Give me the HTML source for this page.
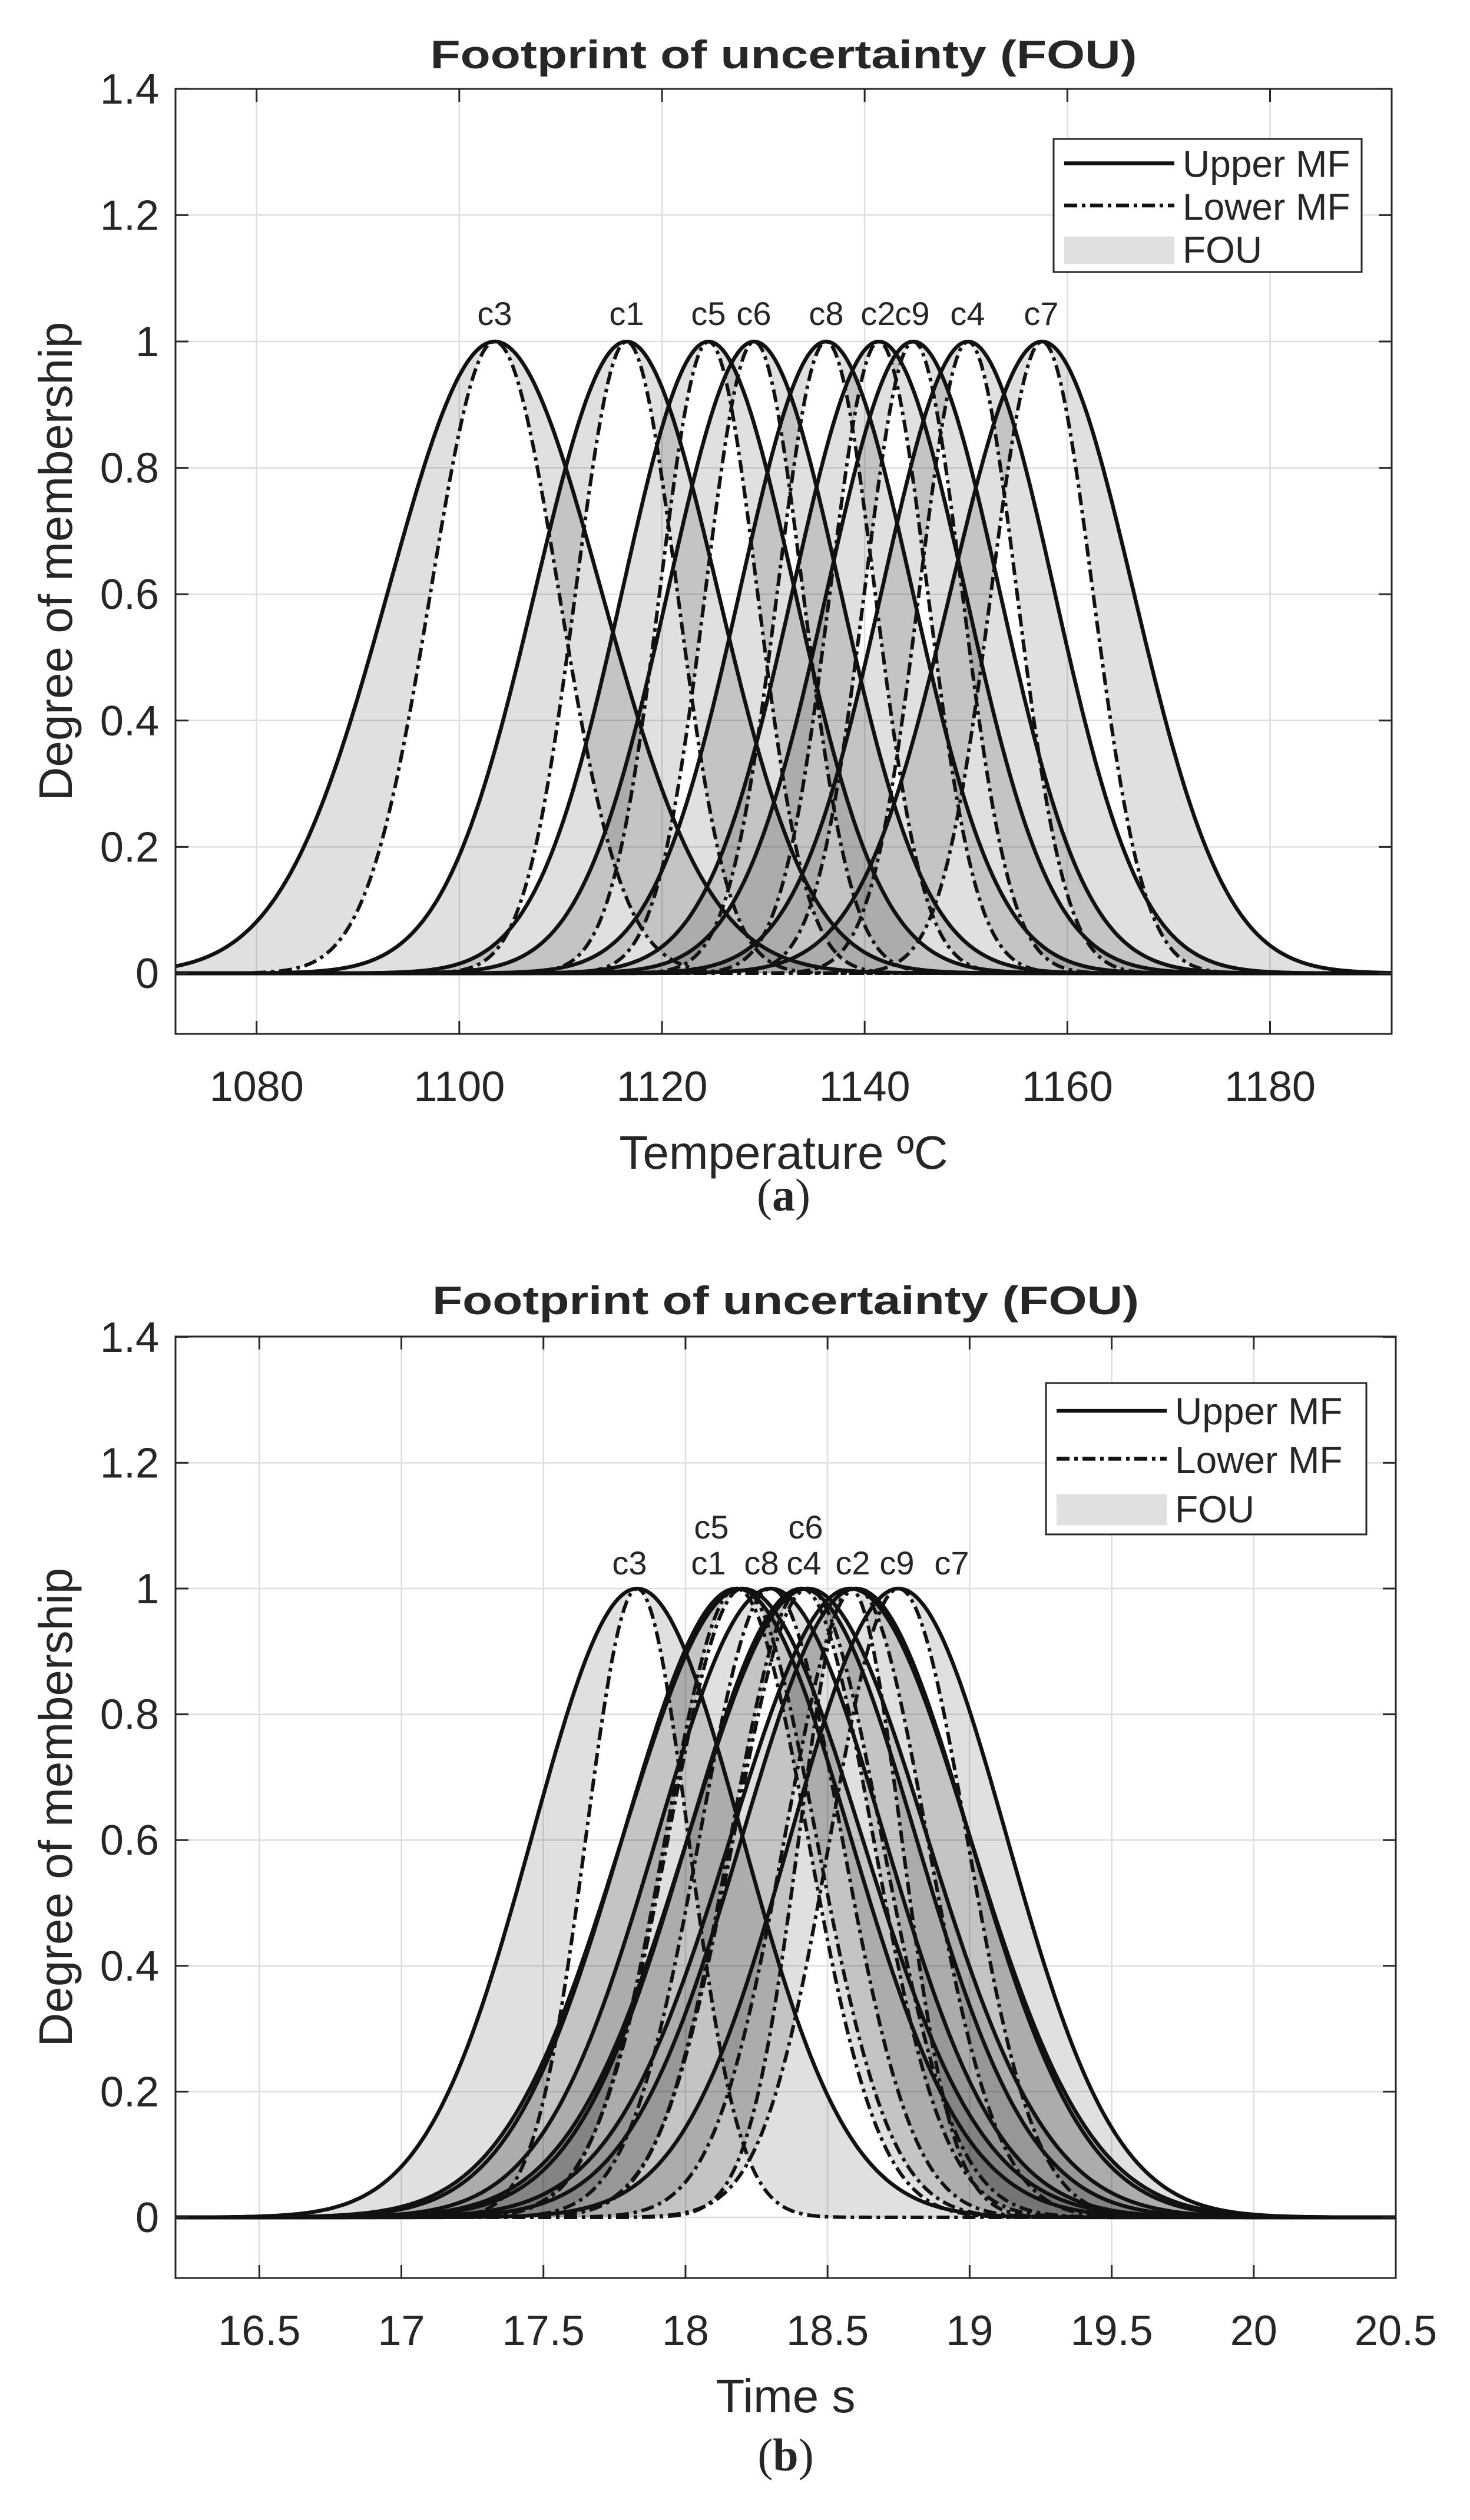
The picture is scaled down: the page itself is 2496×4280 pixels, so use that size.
<!DOCTYPE html>
<html><head><meta charset="utf-8"><style>
html,body{margin:0;padding:0;background:#fff;}
svg{display:block;}
text{font-family:"Liberation Sans",Arial,sans-serif;fill:#262626;}
</style></head><body>
<svg id="s" width="2496" height="4280" xmlns="http://www.w3.org/2000/svg"></svg>
<script>
var S=document.getElementById('s');var NS='http://www.w3.org/2000/svg';
function el(t,a,txt){var e=document.createElementNS(NS,t);for(var k in a)e.setAttribute(k,a[k]);if(txt!==undefined)e.textContent=txt;S.appendChild(e);return e;}
function plot(P){
 var X=function(v){return P.L+(v-P.x0)/(P.x1-P.x0)*(P.R-P.L);};
 var Y=function(v){return P.y0px-(v)*(P.y0px-P.y1px);};
 P.xt.forEach(function(v){el('line',{x1:X(v),x2:X(v),y1:P.T,y2:P.B,stroke:'#dedede','stroke-width':2.5});});
 for(var j=0;j<=7;j++){var y=Y(j*0.2);el('line',{x1:P.L,x2:P.R,y1:y,y2:y,stroke:'#dedede','stroke-width':2.5});}
 P.c.forEach(function(c){
  var up=[],lo=[];
  for(var i=0;i<=400;i++){var x=P.x0+(P.x1-P.x0)*i/400;
   up.push(X(x).toFixed(1)+','+Y(Math.exp(-Math.pow(x-c[1],2)/(2*c[2]*c[2]))).toFixed(1));
   lo.push(X(x).toFixed(1)+','+Y(Math.exp(-Math.pow(x-c[1],2)/(2*c[3]*c[3]))).toFixed(1));}
  c.up=up;c.lo=lo;
  el('path',{d:'M'+up.join('L')+'L'+lo.slice().reverse().join('L')+'Z',fill:'#000','fill-opacity':0.12,stroke:'none'});
 });
 P.c.forEach(function(c){
  el('path',{d:'M'+c.lo.join('L'),fill:'none',stroke:'#111','stroke-width':6,'stroke-dasharray':'22,8,6,8'});
  el('path',{d:'M'+c.up.join('L'),fill:'none',stroke:'#111','stroke-width':6.5});
 });
 el('rect',{x:P.L,y:P.T,width:P.R-P.L,height:P.B-P.T,fill:'none',stroke:'#262626','stroke-width':3});
 P.xt.forEach(function(v){el('line',{x1:X(v),x2:X(v),y1:P.B,y2:P.B-22,stroke:'#262626','stroke-width':3});
  el('line',{x1:X(v),x2:X(v),y1:P.T,y2:P.T+22,stroke:'#262626','stroke-width':3});
  el('text',{x:X(v),y:P.xty,'font-size':72,'text-anchor':'middle'},String(v));});
 for(var j=0;j<=7;j++){var y=Y(j*0.2);
  el('line',{x1:P.L,x2:P.L+22,y1:y,y2:y,stroke:'#262626','stroke-width':3});
  el('line',{x1:P.R,x2:P.R-22,y1:y,y2:y,stroke:'#262626','stroke-width':3});
  var s=j==0?'0':j==5?'1':(j*0.2).toFixed(1);
  el('text',{x:P.L-28,y:y+25,'font-size':72,'text-anchor':'end'},s);}
 P.lab.forEach(function(l){el('text',{x:l[1],y:l[2]+20,'font-size':56,'text-anchor':'middle',fill:'#111'},l[0]);});
 el('text',{x:(P.L+P.R)/2,y:P.ty,'font-size':68,'font-weight':'bold','text-anchor':'middle',fill:'#111',textLength:1200,lengthAdjust:'spacingAndGlyphs'},'Footprint of uncertainty (FOU)');
 el('text',{x:(P.L+P.R)/2,y:P.xly,'font-size':80,'text-anchor':'middle'},P.xl);
 var yc=(P.T+P.B)/2;
 el('text',{x:0,y:0,'font-size':80,'text-anchor':'middle',transform:'translate('+(P.yx)+','+yc+') rotate(-90)'},'Degree of membership');
 var sub=el('text',{x:(P.L+P.R)/2,y:P.sy,'font-size':78,'text-anchor':'middle',fill:'#000',style:'font-family:Liberation Serif,serif'});
 sub.innerHTML='(<tspan font-weight="bold">'+P.sub+'</tspan>)';
 var g=P.lg;
 el('rect',{x:g[0],y:g[1],width:g[2]-g[0],height:g[3]-g[1],fill:'#fff',stroke:'#262626','stroke-width':3});
 var h=(g[3]-g[1])/3;
 var lx1=g[0]+18,lx2=g[0]+205;
 el('line',{x1:lx1,x2:lx2,y1:g[1]+h*0.55,y2:g[1]+h*0.55,stroke:'#111','stroke-width':6.5});
 el('line',{x1:lx1,x2:lx2,y1:g[1]+h*1.5,y2:g[1]+h*1.5,stroke:'#111','stroke-width':6.5,'stroke-dasharray':'22,8,6,8'});
 el('rect',{x:lx1,y:g[1]+h*2.2,width:lx2-lx1,height:h*0.62,fill:'#e0e0e0'});
 ['Upper MF','Lower MF','FOU'].forEach(function(t,i){el('text',{x:lx2+14,y:g[1]+h*(0.55+i*0.97)+23,'font-size':64,fill:'#111'},t);});
}
plot({L:298,R:2363,T:151,B:1756,x0:1072,x1:1192,y0px:1653,y1px:580,
 xt:[1080,1100,1120,1140,1160,1180],xty:1870,ty:116,xly:1985,yx:122,sy:2056,sub:'a',xl:'Temperature ºC',
 lg:[1789,236,2312,462],
 c:[['c3',1103.5,10.5,6.3],['c1',1116.5,9,5],['c5',1124.6,8.5,4.8],['c6',1129.1,8.5,4.8],['c8',1136.2,8.5,4.8],['c2',1141.4,8.5,4.8],['c9',1144.8,8.5,4.8],['c4',1150.2,8.5,4.8],['c7',1157.5,9,5]],
 lab:[['c3',840,532],['c1',1064,532],['c5',1203,532],['c6',1280,532],['c8',1403,532],['c2',1491,532],['c9',1549,532],['c4',1643,532],['c7',1768,532]]});
plot({L:298,R:2370,T:2270,B:3869,x0:16.205,x1:20.5,y0px:3766,y1px:2698,
 xt:[16.5,17,17.5,18,18.5,19,19.5,20,20.5],xty:3983,ty:2232,xly:4097,yx:122,sy:4196,sub:'b',xl:'Time s',
 lg:[1776,2349,2320,2606],
 c:[['c3',17.83,0.37,0.18],['c1',18.2,0.42,0.26],['c5',18.18,0.4,0.25],['c8',18.3,0.4,0.25],['c4',18.43,0.42,0.26],['c6',18.41,0.4,0.25],['c2',18.58,0.42,0.18],['c9',18.6,0.4,0.25],['c7',18.75,0.38,0.24]],
 lab:[['c3',1069,2654],['c1',1203,2654],['c5',1208,2593],['c8',1293,2654],['c4',1365,2654],['c6',1368,2593],['c2',1448,2654],['c9',1523,2654],['c7',1616,2654]]});
</script>
</body></html>
